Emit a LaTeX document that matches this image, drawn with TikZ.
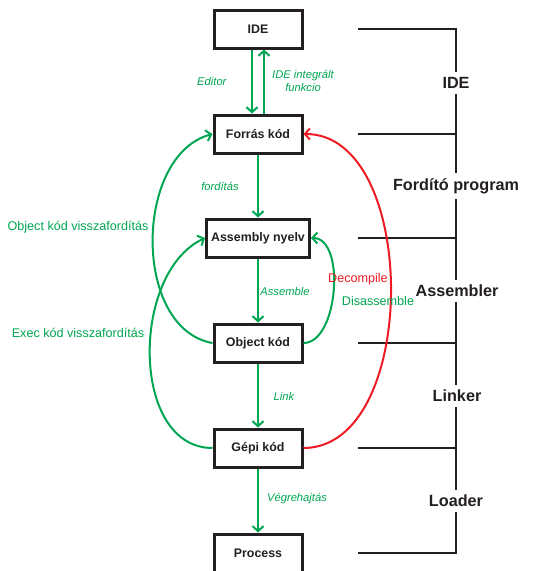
\documentclass[tikz,border=0pt]{standalone}
\usepackage{fontspec}
\setmainfont{Liberation Sans}
\usetikzlibrary{arrows.meta}
\definecolor{codegreen}{RGB}{0,166,81}
\definecolor{codered}{RGB}{237,28,36}
\definecolor{ink}{RGB}{35,31,32}
\begin{document}
\begin{tikzpicture}[x=1pt,y=-1pt,
    box/.style={draw=ink, line width=3pt, minimum width=88pt, minimum height=38pt,
            text=ink, font=\fontsize{12.4}{14}\selectfont\bfseries},
    flow/.style={draw=codegreen, line width=2pt, -{Straight Barb[length=5pt,width=11pt]}},
    back/.style={flow, draw=codered},
    lab/.style={text=codegreen, font=\fontsize{11.2}{13}\selectfont\itshape, align=center},
    side/.style={text=codegreen, font=\fontsize{12.6}{15}\selectfont},
    tool/.style={fill=white, inner sep=5pt, text=ink, font=\fontsize{16.2}{19}\selectfont\bfseries},
    bar/.style={draw=ink, line width=2pt}]
\useasboundingbox (0,0) rectangle (538,571);
\node[box] (ide) at (258,29) {IDE};
\node[box] (forras) at (258,134) {Forrás kód};
\node[box, minimum width=103pt] (asm) at (258,238) {Assembly nyelv};
\node[box] (obj) at (258,343) {Object kód};
\node[box] (gepi) at (258,448) {Gépi kód};
\node[box] (proc) at (258,553) {Process};
\coordinate (spine) at (456,0);
\draw[bar] ([xshift=-98pt]spine |- ide) -- (spine |- ide) -- (spine |- proc) -- ([xshift=-98pt]spine |- proc);
\draw[bar] ([xshift=-98pt]spine |- forras) -- (spine |- forras);
\draw[bar] ([xshift=-98pt]spine |- asm) -- (spine |- asm);
\draw[bar] ([xshift=-98pt]spine |- obj) -- (spine |- obj);
\draw[bar] ([xshift=-98pt]spine |- gepi) -- (spine |- gepi);
\node[tool] (t1) at (456,83) {IDE};
\node[tool] (t2) at (456,186) {Fordító program};
\node[tool] (t3) at (457,291) {Assembler};
\node[tool] (t4) at (457,396) {Linker};
\node[tool] (t5) at (456,501) {Loader};
\draw[flow] ([xshift=-6pt]ide.south) -- ([xshift=-6pt]forras.north);
\draw[flow] ([xshift=6pt]forras.north) -- ([xshift=6pt]ide.south);
\draw[flow] (forras) -- (asm);
\draw[flow] (asm) -- (obj);
\draw[flow] (obj) -- (gepi);
\draw[flow] (gepi) -- (proc);
\draw[flow] (obj.west) to[out=170, in=195] (forras.west);
\draw[flow] (gepi.west) to[out=180, in=205] (asm.west);
\draw[flow] (obj.east) to[out=0, in=0, looseness=0.85] (asm.east);
\draw[back] (gepi.east) to[out=0, in=0, looseness=0.95] (forras.east);
\node[lab, anchor=east] (l1) at (230,81) {Editor};
\node[lab] (l2) at (303,81) {IDE integrált\\funkcio};
\node[lab] (l3) at (220,186) {fordítás};
\node[lab] (l4) at (285,291) {Assemble};
\node[lab] (l5) at (284,396) {Link};
\node[lab] (l6) at (297,499) {Végrehajtás};
\node[side] (s1) at (78,227) {Object kód visszafordítás};
\node[side] (s2) at (78,333) {Exec kód visszafordítás};
\node[side, text=codered] (s3) at (358,279) {Decompile};
\node[side] (s4) at (378,301) {Disassemble};
\end{tikzpicture}
\end{document}
